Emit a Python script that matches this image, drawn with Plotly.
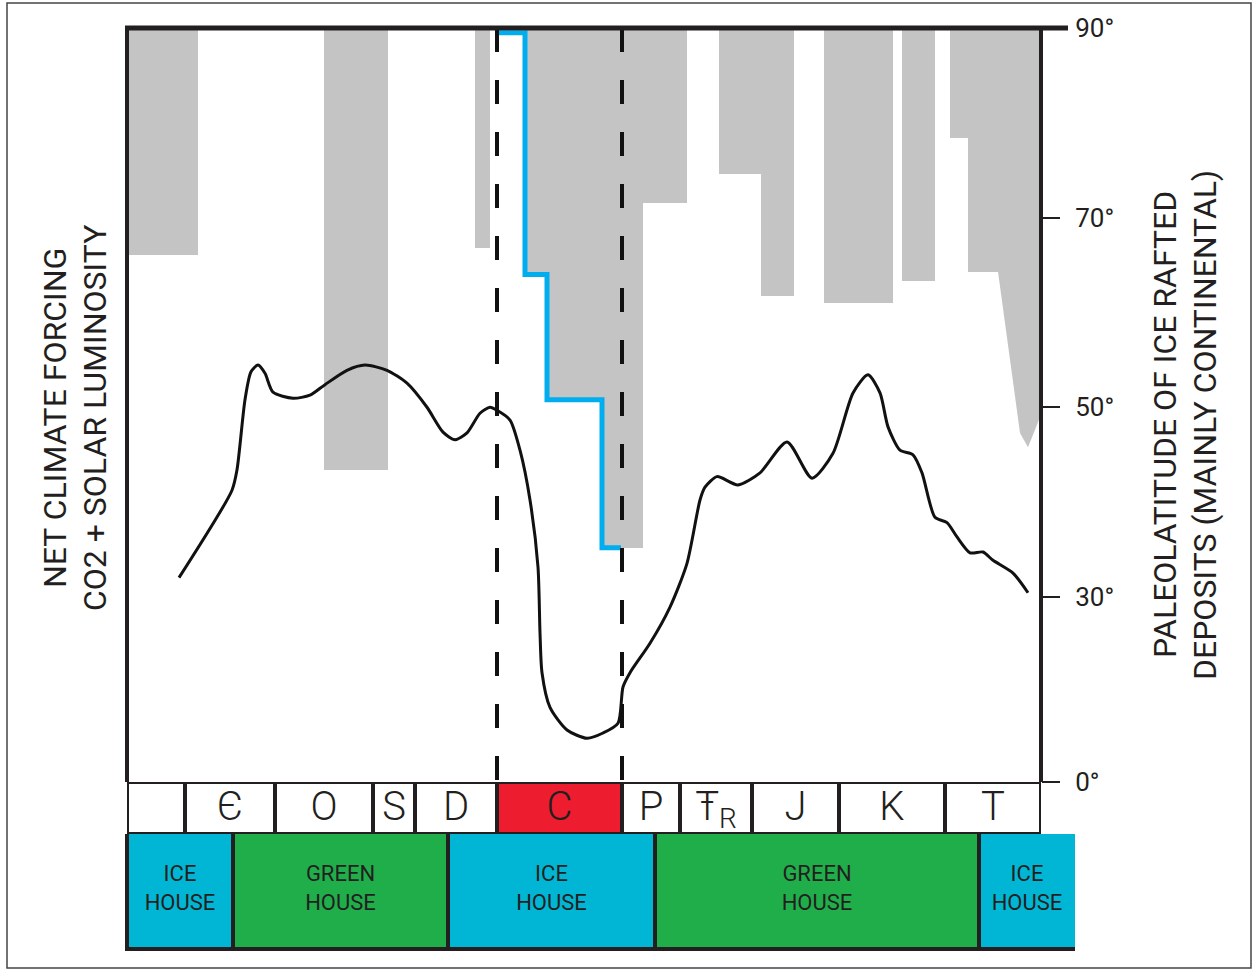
import plotly.graph_objects as go

W, H = 1253, 970

# ---- timeline (schematic position along the Phanerozoic, arbitrary units) ----
period_labels = ["", "Є", "O", "S", "D", "C", "P", "Ŧ<sub>R</sub>", "J", "K", "T"]
period_edges = [0, 58, 148, 246, 288, 370, 495, 553, 625, 712, 818, 914]
glacial_period = "C"

state_labels = ["ICE<br>HOUSE", "GREEN<br>HOUSE", "ICE<br>HOUSE", "GREEN<br>HOUSE", "ICE<br>HOUSE"]
state_kinds = ["ice", "green", "ice", "green", "ice"]
state_edges = [0, 106, 321, 528, 852, 948]

# ---- paleolatitude reached by ice rafted deposits (degrees) ----
ird_start = [0, 197, 348, 398, 420, 475, 516, 592, 634, 697, 775, 823, 841]
ird_end = [71, 261, 363, 420, 475, 516, 560, 634, 667, 766, 808, 841, 871]
ird_lat = [66.1, 43.4, 66.8, 64.0, 50.8, 35.2, 71.5, 74.6, 61.7, 61.0, 63.3, 78.4, 64.3]

# Tertiary wedge: deposits spreading towards lower latitudes
wedge_x = [871, 893, 901, 912, 912, 871]
wedge_lat = [64.3, 47.3, 45.8, 48.7, 90.0, 90.0]

# Carboniferous glaciation limit (step line)
glac_x = [370, 398, 420, 475, 494]
glac_lat = [89.5, 64.0, 50.8, 35.2, 35.2]

# ---- net climate forcing (CO2 + solar luminosity), relative units 0-100 ----
forcing_x = [52, 105, 110, 118, 124, 131, 138, 146, 166, 183, 198, 220, 238, 260, 280,
             300, 316, 328, 340, 353, 363, 370, 383, 393, 403, 411, 413, 415, 423, 440,
             460, 476, 491, 496, 503, 523, 543, 560, 573, 578, 590, 611, 633, 660, 685,
             706, 726, 741, 753, 761, 773, 786, 795, 808, 820, 830, 843, 856, 866, 886, 901]
forcing_val = [27.1, 38.7, 41.4, 50.7, 54.4, 55.3, 54.2, 51.7, 50.9, 51.3, 52.7, 54.6, 55.3,
               54.6, 52.9, 49.7, 46.4, 45.4, 46.3, 48.9, 49.7, 49.3, 48.0, 44.0, 37.4, 28.5,
               19.8, 14.5, 9.9, 6.9, 5.8, 6.5, 7.8, 12.6, 14.5, 18.4, 23.2, 29.0, 37.4, 39.1,
               40.5, 39.4, 41.0, 45.1, 40.3, 43.6, 51.6, 54.0, 51.6, 47.1, 44.0, 43.4, 41.0,
               35.1, 34.4, 32.5, 30.4, 30.5, 29.4, 27.7, 25.1]

lat_ticks = [0, 30, 50, 70, 90]
lat_floor = 10.5  # the 0 degree line sits at the foot of the scale

INK = "#231f20"
GREY = "#c4c4c4"
BLUE = "#00aeef"
RED = "#ed1c2e"
ICE = "#00b6d4"
GREEN = "#1fae4a"
FONT = "Roboto, 'Open Sans', sans-serif"
RULE = 4          # thickness of the black separators (axis units = px)
STRIP_PX = 117    # height of the ice/green house strip in px


def mids(a, b):
    return [(p + q) / 2 for p, q in zip(a, b)]


def fy(px):
    """pixel row -> paper fraction"""
    return 1 - px / H


fig = go.Figure()

# ice rafted deposits hanging from the pole
fig.add_trace(go.Bar(
    x=mids(ird_start, ird_end), width=[b - a for a, b in zip(ird_start, ird_end)],
    base=ird_lat, y=[90 - v for v in ird_lat],
    marker=dict(color=GREY, line=dict(width=0)),
    xaxis="x", yaxis="y", hoverinfo="skip", showlegend=False))
fig.add_trace(go.Scatter(
    x=wedge_x, y=wedge_lat, fill="toself", fillcolor=GREY, mode="lines",
    line=dict(width=0, color=GREY), xaxis="x", yaxis="y", hoverinfo="skip", showlegend=False))

# glaciation limit
fig.add_trace(go.Scatter(
    x=glac_x, y=glac_lat, mode="lines", line=dict(color=BLUE, width=5, shape="hv"),
    xaxis="x", yaxis="y", hoverinfo="skip", showlegend=False))

# forcing curve
fig.add_trace(go.Scatter(
    x=forcing_x, y=forcing_val, mode="lines",
    line=dict(color="#111111", width=3, shape="spline", smoothing=0.7),
    xaxis="x", yaxis="y2", hoverinfo="skip", showlegend=False))

# dashed boundaries of the glacial period
ci = period_labels.index(glacial_period)
for xb in (period_edges[ci], period_edges[ci + 1]):
    fig.add_trace(go.Scatter(
        x=[xb, xb], y=[90, lat_floor], mode="lines",
        line=dict(color="#111111", width=4, dash="24px,28px"),
        xaxis="x", yaxis="y", hoverinfo="skip", showlegend=False))

# geological periods strip
p_left, p_right = period_edges[:-1], period_edges[1:]
fig.add_trace(go.Bar(
    x=mids(p_left, p_right), width=[b - a for a, b in zip(p_left, p_right)],
    base=[0] * len(p_left), y=[1] * len(p_left),
    marker=dict(color=[RED if l == glacial_period else "white" for l in period_labels],
                line=dict(color=INK, width=RULE)),
    xaxis="x", yaxis="y3", hoverinfo="skip", showlegend=False))
fig.add_trace(go.Scatter(
    x=mids(p_left, p_right), y=[0.47] * len(p_left), mode="text", text=period_labels,
    textfont=dict(family=FONT, size=40, color=INK, weight=300),
    xaxis="x", yaxis="y3", hoverinfo="skip", showlegend=False))

# ice house / green house strip: black backing, coloured cells leave rule-wide gaps
s_left, s_right = state_edges[:-1], state_edges[1:]
fig.add_trace(go.Bar(
    x=[(state_edges[0] - RULE / 2 + state_edges[-1]) / 2],
    width=[state_edges[-1] - state_edges[0] + RULE / 2],
    base=[0], y=[1], marker=dict(color=INK, line=dict(width=0)),
    xaxis="x2", yaxis="y4", hoverinfo="skip", showlegend=False))
cell_l = [a + RULE / 2 for a in s_left]
cell_r = [b - RULE / 2 for b in s_right[:-1]] + [s_right[-1]]
fig.add_trace(go.Bar(
    x=mids(cell_l, cell_r), width=[b - a for a, b in zip(cell_l, cell_r)],
    base=[RULE / STRIP_PX] * len(s_left), y=[1 - RULE / STRIP_PX] * len(s_left),
    marker=dict(color=[ICE if k == "ice" else GREEN for k in state_kinds], line=dict(width=0)),
    xaxis="x2", yaxis="y4", hoverinfo="skip", showlegend=False))
fig.add_trace(go.Scatter(
    x=mids(s_left, s_right), y=[0.52] * len(s_left), mode="text", text=state_labels,
    textfont=dict(family=FONT, size=22, color=INK),
    xaxis="x2", yaxis="y4", hoverinfo="skip", showlegend=False))

main_x = [127 / W, 1041 / W]
main_y = [fy(782), fy(28)]

fig.update_layout(
    width=W, height=H, autosize=False,
    margin=dict(l=0, r=0, t=0, b=0, pad=0, autoexpand=False),
    paper_bgcolor="white", plot_bgcolor="rgba(0,0,0,0)",
    barmode="overlay", bargap=0,
    xaxis=dict(domain=main_x, range=[0, 914], visible=False, fixedrange=True,
               automargin=False),
    yaxis=dict(domain=main_y, range=[lat_floor, 90], side="right", anchor="x",
               automargin=False,
               tickmode="array",
               tickvals=[lat_floor if v == 0 else v for v in lat_ticks],
               ticktext=[f"{v}°" for v in lat_ticks],
               ticks="outside", ticklen=18, tickwidth=1.5, tickcolor=INK,
               ticklabelstandoff=10,
               tickfont=dict(family=FONT, size=26, color=INK),
               showgrid=False, zeroline=False, showline=False),
    yaxis2=dict(domain=main_y, range=[0, 100], overlaying="y", visible=False,
                automargin=False),
    yaxis3=dict(domain=[fy(834), fy(782)], range=[0, 1], visible=False, anchor="x",
                automargin=False),
    xaxis2=dict(domain=[125 / W, 1075 / W], range=[-RULE / 2, 948], visible=False,
                anchor="y4", automargin=False),
    yaxis4=dict(domain=[fy(834 + STRIP_PX), fy(834)], range=[0, 1], visible=False,
                anchor="x2", automargin=False),
)

# frame of the main panel
fig.add_shape(type="line", xref="x domain", yref="y domain", x0=0, x1=0, y0=0, y1=1,
              line=dict(color=INK, width=4))
fig.add_shape(type="line", xref="x domain", yref="y domain", x0=1, x1=1, y0=0, y1=1,
              line=dict(color=INK, width=4))
fig.add_shape(type="line", xref="paper", yref="y domain", x0=125 / W, x1=1068 / W, y0=1, y1=1,
              line=dict(color=INK, width=5))
# outer border
fig.add_shape(type="rect", xref="paper", yref="paper", x0=7 / W, x1=1251 / W,
              y0=fy(968), y1=fy(3), line=dict(color="#444444", width=1.5))

# axis titles
TITLE_FONT = dict(family=FONT, size=32, color=INK)
for txt, xp in (("NET CLIMATE FORCING", 55), ("CO2 + SOLAR LUMINOSITY", 95)):
    fig.add_annotation(text=txt, x=xp / W, y=fy(418), xref="paper", yref="paper",
                       xanchor="center", yanchor="middle",
                       textangle=-90, showarrow=False, font=TITLE_FONT)
for txt, xp in (("PALEOLATITUDE OF ICE RAFTED", 1165), ("DEPOSITS (MAINLY CONTINENTAL)", 1205)):
    fig.add_annotation(text=txt, x=xp / W, y=fy(425), xref="paper", yref="paper",
                       xanchor="center", yanchor="middle",
                       textangle=-90, showarrow=False, font=TITLE_FONT)

fig.write_html("out.html")
